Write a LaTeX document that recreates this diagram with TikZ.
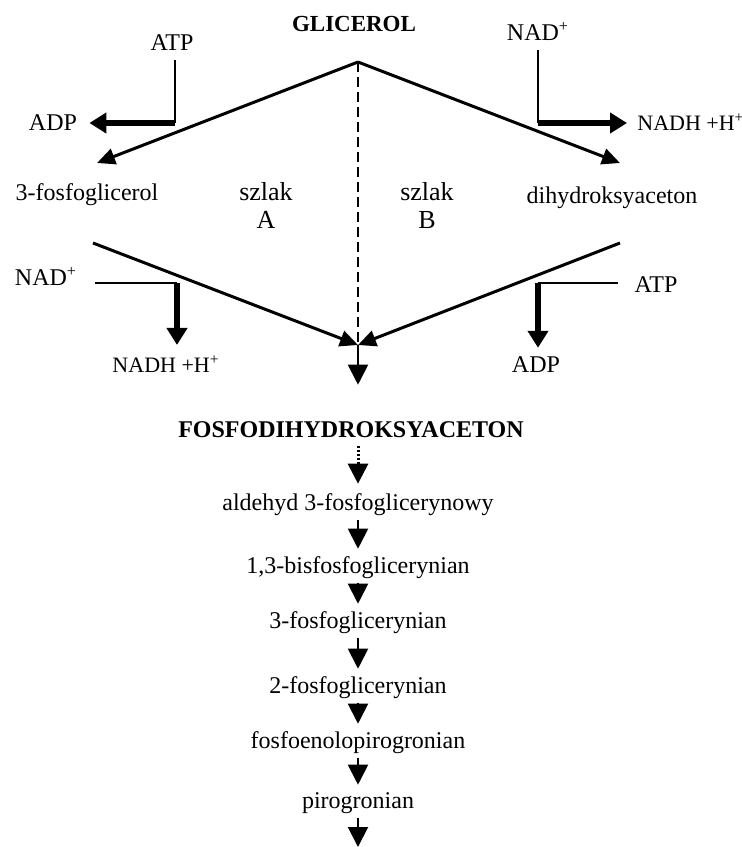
\documentclass[tikz,border=0pt]{standalone}
\usepackage{fontspec}
\setmainfont{Liberation Serif}
\usetikzlibrary{positioning,arrows.meta}

\begin{document}
\begin{tikzpicture}[x=0.5pt, y=-0.5pt, font=\fontsize{12}{14}\selectfont,
    lbl/.style={inner sep=2pt, anchor=base},
    small/.style={font=\fontsize{11}{13}\selectfont},
    main/.style={line width=1.5pt, -{Triangle[length=9pt,width=8pt]}},
    side/.style={line width=1pt},
    bigarr/.style={line width=2.6pt, -{Triangle[length=8.5pt,width=10pt]}},
    stepar/.style={line width=1pt, -{Triangle[length=10pt,width=10pt]}}]
  \useasboundingbox (0,0) rectangle (741,847);

  % Substrate
  \node[lbl, font=\fontsize{11.5}{14}\selectfont\bfseries] (glicerol) at (354,31) {GLICEROL};
  \coordinate (apex) at (358,62);

  % Pathway A (left)
  \node[lbl] (atpA) at (172,50) {ATP};
  \node[lbl] (adpA) at (53,130) {ADP};
  \coordinate (cA) at (175,123);
  \coordinate (tipA) at (97,163);
  \node[lbl] (fglic) at (87,200) {3-fosfoglicerol};
  \node[inner sep=2pt, anchor=north, align=center, font=\fontsize{13}{14}\selectfont] (szlakA) at (266,178) {szlak\\A};
  \coordinate (startA) at (93,243);
  \node[lbl] (nadA) at (46,285) {NAD\textsuperscript{+}};
  \coordinate (cC) at (177,283);
  \node[lbl, small] (nadhA) at (166,372) {NADH +H\textsuperscript{+}};

  % Pathway B (right)
  \node[lbl] (nadB) at (538,40) {NAD\textsuperscript{+}};
  \node[lbl, small, anchor=base west] (nadhB) at (633,130) {NADH +H\textsuperscript{+}};
  \coordinate (cB) at (538,123);
  \coordinate (tipB) at (620,163);
  \node[lbl] (dhac) at (612,203) {dihydroksyaceton};
  \node[inner sep=2pt, anchor=north, align=center, font=\fontsize{13}{14}\selectfont] (szlakB) at (427,178) {szlak\\B};
  \coordinate (startB) at (620,243);
  \node[lbl] (atpB) at (656,292) {ATP};
  \coordinate (cD) at (538,283);
  \node[lbl] (adpB) at (536,372) {ADP};

  % Junction
  \coordinate (join) at (358,345);

  % Glycolysis chain
  \node[lbl, font=\fontsize{12}{14}\selectfont\bfseries] (fdhap) at (351,437) {FOSFODIHYDROKSYACETON};
  \node[lbl] (ald) at (358,510) {aldehyd 3-fosfoglicerynowy};
  \node[lbl] (bisf) at (358,573) {1,3-bisfosfoglicerynian};
  \node[lbl] (trzyf) at (358,628) {3-fosfoglicerynian};
  \node[lbl] (dwaf) at (358,693) {2-fosfoglicerynian};
  \node[lbl] (pep) at (358,748) {fosfoenolopirogronian};
  \node[lbl] (pir) at (358,808) {pirogronian};
  \coordinate (koniec) at (358,847);

  % Edges from glicerol
  \draw[main] (apex) -- (tipA);
  \draw[main] (apex) -- (tipB);
  \draw[line width=1.1pt, dash pattern=on 5pt off 2.5pt] (apex) -- (join);

  % Cofactors, pathway A
  \draw[side, shorten <=3pt] (atpA.south -| cA) -- (cA);
  \draw[bigarr, shorten >=4pt] (cA) -- (adpA.east |- cA);
  \draw[side, shorten <=7pt] (nadA.east |- cC) -- (cC);
  \draw[bigarr, shorten >=3pt] (cC) -- (nadhA.north -| cC);

  % Cofactors, pathway B
  \draw[side, shorten <=3pt] (nadB.south -| cB) -- (cB);
  \draw[bigarr, shorten >=3pt] (cB) -- (nadhB.west |- cB);
  \draw[side, shorten <=6pt] (atpB.west |- cD) -- (cD);
  \draw[bigarr, shorten >=2pt] (cD) -- (adpB.north -| cD);

  % Edges to the junction
  \draw[main] (startA) -- (join);
  \draw[main] (startB) -- (join);
  \draw[stepar, shorten >=16pt] (join) -- (join |- fdhap.north);

  % Edges of the chain
  \draw[stepar, line width=1.5pt, dash pattern=on 1pt off 1pt, shorten <=2pt, shorten >=2.5pt] (fdhap.south -| ald) -- (ald);
  \draw[stepar, shorten >=1.5pt] (ald) -- (bisf);
  \draw[stepar, shorten >=1.5pt] (bisf) -- (trzyf);
  \draw[stepar, shorten >=1.5pt] (trzyf) -- (dwaf);
  \draw[stepar, shorten >=1.5pt] (dwaf) -- (pep);
  \draw[stepar, shorten >=1.5pt] (pep) -- (pir);
  \draw[stepar] (pir) -- (koniec);
\end{tikzpicture}
\end{document}
